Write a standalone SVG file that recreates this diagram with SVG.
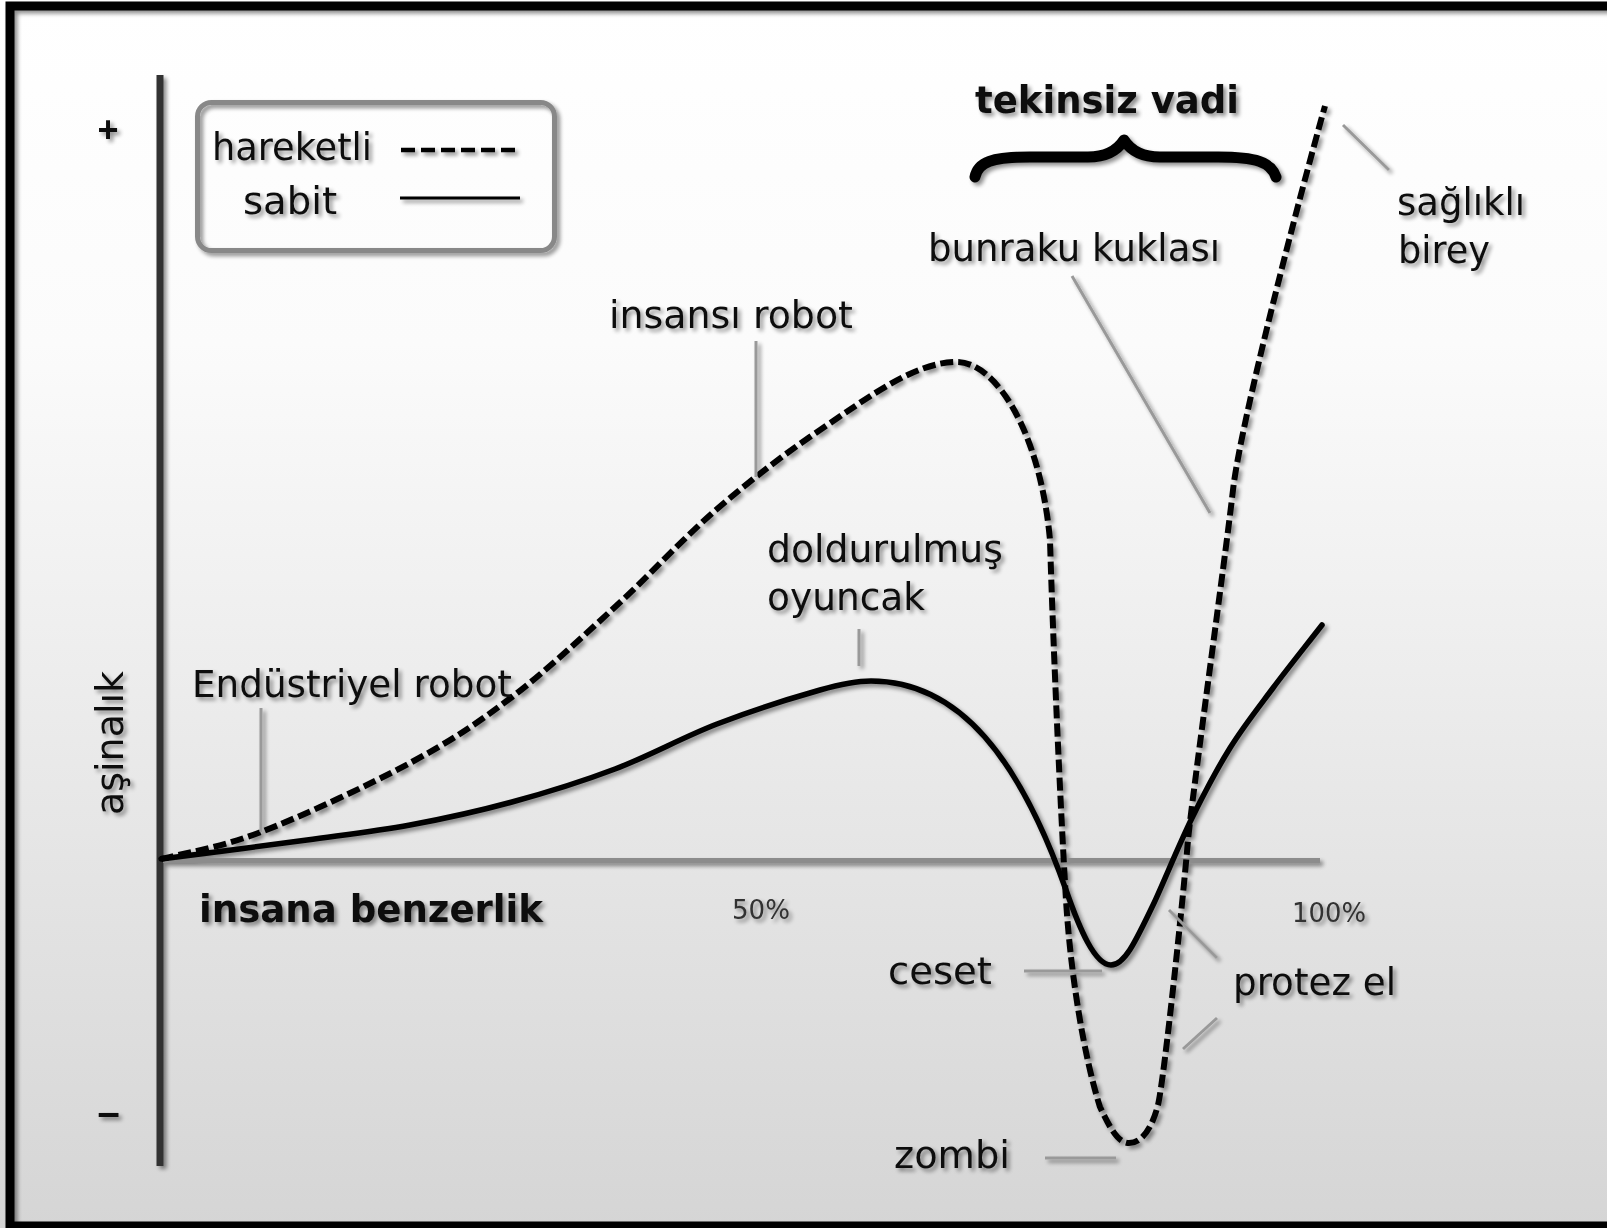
<svg xmlns="http://www.w3.org/2000/svg" width="1607" height="1228" viewBox="0 0 1607 1228">
<defs>
  <linearGradient id="bg" x1="0" y1="0" x2="0" y2="1">
    <stop offset="0" stop-color="#ffffff"/>
    <stop offset="0.28" stop-color="#fbfbfb"/>
    <stop offset="1" stop-color="#d5d5d5"/>
  </linearGradient>
  <filter id="sh" x="-5%" y="-5%" width="110%" height="110%">
    <feGaussianBlur in="SourceAlpha" stdDeviation="2.2"/>
    <feOffset dx="3" dy="3" result="b"/>
    <feComponentTransfer><feFuncA type="linear" slope="0.45"/></feComponentTransfer>
    <feMerge><feMergeNode/><feMergeNode in="SourceGraphic"/></feMerge>
  </filter>
  <style>
    .t{font-family:"DejaVu Sans","Liberation Sans",sans-serif;font-size:37px;fill:#111}
    .b{font-family:"DejaVu Sans","Liberation Sans",sans-serif;font-size:37px;font-weight:bold;fill:#111}
    .p{font-family:"DejaVu Sans","Liberation Sans",sans-serif;font-size:26px;fill:#333}
    .s{font-family:"Liberation Sans",sans-serif;font-weight:bold;fill:#111}
    .lead{stroke:#999;stroke-width:3;fill:none}
    .dash{fill:none;stroke:#000;stroke-width:6;stroke-dasharray:13 5}
    .solid{fill:none;stroke:#000;stroke-width:5.5;stroke-linecap:round}
  </style>
</defs>
<rect width="1607" height="1228" fill="url(#bg)"/>
<g filter="url(#sh)">
  <g id="frame">
    <rect x="10" y="6" width="1620" height="1220" fill="none" stroke="#000" stroke-width="9"/>
  </g>
  <g id="axes">
    <line x1="160" y1="75" x2="160" y2="1166" stroke="#333" stroke-width="7"/>
    <line x1="163" y1="860.5" x2="1320" y2="860.5" stroke="#8c8c8c" stroke-width="5"/>
    <text class="s" x="108" y="142" font-size="36" text-anchor="middle">+</text>
    <text class="s" x="108.5" y="1126" font-size="40" text-anchor="middle">–</text>
    <text class="t" transform="translate(123,815) rotate(-90)" x="0" y="0" textLength="144" lengthAdjust="spacingAndGlyphs">aşinalık</text>
    <text class="b" x="199" y="922" textLength="344" lengthAdjust="spacingAndGlyphs">insana benzerlik</text>
    <text class="p" x="732" y="919" textLength="58" lengthAdjust="spacingAndGlyphs">50%</text>
    <text class="p" x="1292" y="922" textLength="74" lengthAdjust="spacingAndGlyphs">100%</text>
  </g>
  <g id="legend">
    <rect x="197.5" y="102.5" width="357" height="148" rx="14" fill="none" stroke="#888" stroke-width="5"/>
    <text class="t" x="212" y="160" textLength="160" lengthAdjust="spacingAndGlyphs">hareketli</text>
    <text class="t" x="243" y="214" textLength="94" lengthAdjust="spacingAndGlyphs">sabit</text>
    <line x1="401" y1="150" x2="521" y2="150" stroke="#000" stroke-width="4.5" stroke-dasharray="14 6"/>
    <line x1="400" y1="198" x2="520" y2="198" stroke="#000" stroke-width="3"/>
  </g>
  <g id="connectors">
    <path class="dash" d="M161,859 C177.7,854.5 219.5,848 261,832 C302.5,816 368.2,785.5 410,763 C451.8,740.5 477.8,723 512,697 C546.2,671 580.8,638.3 615,607 C649.2,575.7 682.8,538.5 717,509 C751.2,479.5 785.8,453 820,430 C871,395.5 915,362 957,362 C995,362 1040,430 1050,540 C1053,640 1060,800 1066,900 C1071,980 1085,1060 1100,1107 C1110,1128 1118,1143 1129,1143 C1142,1143 1152,1128 1158,1105 C1164,1080 1183,900 1188,840 C1193,790 1225,560 1233,490 C1241,420 1300,195 1325,106"/>
    <path class="solid" d="M161,859 C185.3,855.8 265.5,845.7 307,840 C348.5,834.3 375.8,831.3 410,825 C444.2,818.7 477.8,811.3 512,802 C546.2,792.7 580.8,782 615,769 C649.2,756 682.8,737.2 717,724 C751.2,710.8 794.3,697.2 820,690 C845.7,682.8 858,681 871,681 C960,681 1020,760 1066,890 C1080,930 1095,965 1111,965 C1124,965 1134,945 1154,903 C1164,881.5 1179.3,843.8 1192,818 C1204.7,792.2 1216.5,769.7 1230,748 C1243.5,726.3 1257.7,708.5 1273,688 C1288.3,667.5 1305.7,646 1322,625"/>
    <line class="lead" x1="261" y1="708" x2="261" y2="832"/>
    <line class="lead" x1="756" y1="341" x2="756" y2="477"/>
    <line class="lead" x1="859" y1="629" x2="859" y2="666"/>
    <line class="lead" x1="1072" y1="276" x2="1210" y2="513"/>
    <line class="lead" x1="1343" y1="125" x2="1389" y2="170"/>
    <line class="lead" x1="1024" y1="971" x2="1102" y2="971"/>
    <line class="lead" x1="1169" y1="910" x2="1217" y2="958"/>
    <line class="lead" x1="1217" y1="1018" x2="1183" y2="1049"/>
    <line class="lead" x1="1045" y1="1158" x2="1116" y2="1158"/>
  </g>
  <g id="valley">
    <path d="M975,177 C978,162 992,157 1030,157 L1088,157 C1106,157 1117,151 1124,140 C1131,151 1142,157 1160,157 L1218,157 C1256,157 1271,162 1276,177" fill="none" stroke="#000" stroke-width="11" stroke-linecap="round" stroke-linejoin="round"/>
    <text class="b" x="975" y="113" textLength="264" lengthAdjust="spacingAndGlyphs">tekinsiz vadi</text>
  </g>
  <g id="labels">
    <text class="t" x="928" y="261" textLength="292" lengthAdjust="spacingAndGlyphs">bunraku kuklası</text>
    <text class="t" x="1397" y="215" textLength="128" lengthAdjust="spacingAndGlyphs">sağlıklı</text>
    <text class="t" x="1398" y="263" textLength="92" lengthAdjust="spacingAndGlyphs">birey</text>
    <text class="t" x="609" y="328" textLength="244" lengthAdjust="spacingAndGlyphs">insansı robot</text>
    <text class="t" x="767" y="562" textLength="236" lengthAdjust="spacingAndGlyphs">doldurulmuş</text>
    <text class="t" x="767" y="610" textLength="158" lengthAdjust="spacingAndGlyphs">oyuncak</text>
    <text class="t" x="192" y="697" textLength="320" lengthAdjust="spacingAndGlyphs">Endüstriyel robot</text>
    <text class="t" x="888" y="984" textLength="104" lengthAdjust="spacingAndGlyphs">ceset</text>
    <text class="t" x="1233" y="995" textLength="163" lengthAdjust="spacingAndGlyphs">protez el</text>
    <text class="t" x="894" y="1168" textLength="116" lengthAdjust="spacingAndGlyphs">zombi</text>
  </g>
</g>
</svg>
